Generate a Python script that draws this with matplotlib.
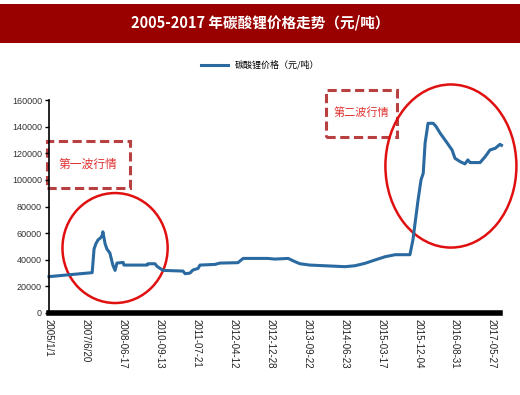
import matplotlib.pyplot as plt
from matplotlib.patches import Ellipse, Rectangle

plt.rcParams['font.family'] = ['Noto Sans CJK SC', 'DejaVu Sans']

title = '2005-2017 年碳酸锂价格走势（元/吨）'
series_name = '碳酸锂价格（元/吨）'

# x tick labels (equally spaced categories)
date_labels = ['2005/1/1', '2007/6/20', '2008-06-17', '2010-09-13', '2011-07-21',
               '2012-04-12', '2012-12-28', '2013-09-22', '2014-06-23', '2015-03-17',
               '2015-12-04', '2016-08-31', '2017-05-27']

# position along the axis in units of one tick interval, and price (元/吨)
pos = [0.00, 0.57, 1.17, 1.22, 1.27, 1.33, 1.38, 1.44, 1.46, 1.52, 1.57, 1.65,
       1.73, 1.79, 1.84, 2.01, 2.03, 2.66, 2.68, 2.87, 2.93, 3.09, 3.63, 3.69,
       3.82, 3.90, 4.04, 4.09, 4.50, 4.63, 5.12, 5.26, 5.93, 6.12, 6.48, 6.67,
       6.80, 7.07, 8.02, 8.29, 8.56, 8.83, 9.11, 9.38, 9.78, 9.86, 10.00, 10.08,
       10.14, 10.19, 10.27, 10.41, 10.49, 10.60, 10.73, 10.92, 11.00, 11.14,
       11.27, 11.35, 11.41, 11.68, 11.82, 11.95, 12.09, 12.22, 12.26]
price = [27300, 28800, 30300, 48000, 52000, 55000, 56000, 58000, 61000, 52000,
         48000, 45000, 36000, 32000, 37500, 38000, 36000, 36000, 37000, 37000,
         35000, 32000, 31500, 29500, 30000, 32300, 33500, 36000, 36500, 37500,
         37800, 41000, 41000, 40500, 41000, 38500, 37000, 36000, 34800, 35500,
         37300, 39800, 42300, 43800, 43800, 54800, 84900, 100000, 105000, 127500,
         142500, 142500, 140000, 135000, 130000, 122500, 116200, 113700, 112000,
         115000, 113000, 113000, 117500, 122500, 123700, 126700, 126000]

fig = plt.figure(figsize=(5.2, 3.95), dpi=100)

# title banner
fig.patches.append(Rectangle((0, 1 - 43/395), 1, 39/395, transform=fig.transFigure,
                             facecolor='#990000', edgecolor='none'))
fig.text(0.5, 1 - 23/395, title, color='white', fontsize=10.5, fontweight='bold',
         ha='center', va='center')

ax = fig.add_axes([49/520, 1 - 313/395, 451/520, 213/395])
line, = ax.plot(pos, price, color='#2a6aa0', linewidth=2.2, clip_on=False,
                label=series_name)

ax.set_xlim(0, 12.22)
ax.set_ylim(0, 160000)
ax.set_yticks(range(0, 160001, 20000))
ax.set_yticklabels([str(v) for v in range(0, 160001, 20000)],
                   family=['Liberation Sans Narrow', 'Liberation Sans'],
                   fontsize=6.5, color='#333333')
ax.set_xticks(range(len(date_labels)))
ax.set_xticklabels(date_labels, rotation=270, family='Liberation Sans',
                   fontsize=7, color='#222222')
ax.tick_params(axis='y', length=3, width=1, pad=2)
ax.tick_params(axis='x', length=0, pad=4)
ax.spines['top'].set_visible(False)
ax.spines['right'].set_visible(False)
ax.spines['left'].set_linewidth(1.2)
ax.spines['bottom'].set_linewidth(4)

fig.legend(handles=[line], loc='center', bbox_to_anchor=(0.5, 1 - 65/395),
           frameon=False, fontsize=6.5, handlelength=3)

# annotations: dashed boxes and red ellipses
ax.add_patch(Rectangle((-0.05, 93900), 2.25, 35300, fill=False, edgecolor='#b84040',
                       linestyle=(0, (3, 1.5)), linewidth=2.2, clip_on=False))
ax.text(1.05, 111500, '第一波行情', color='#e03030', fontsize=8.5, ha='center',
        va='center')
ax.add_patch(Rectangle((7.51, 132200), 1.92, 35300, fill=False, edgecolor='#b84040',
                       linestyle=(0, (3, 1.5)), linewidth=2.2, clip_on=False))
ax.text(8.47, 150500, '第二波行情', color='#e03030', fontsize=8, ha='center',
        va='center', clip_on=False)
ax.add_patch(Ellipse((1.79, 48800), 2.85, 82600, fill=False, edgecolor='#e01010',
                     linewidth=1.8, clip_on=False))
ax.add_patch(Ellipse((10.89, 110400), 3.55, 122500, fill=False, edgecolor='#e01010',
                     linewidth=1.8, clip_on=False))

fig.savefig('out.png', dpi=100)
